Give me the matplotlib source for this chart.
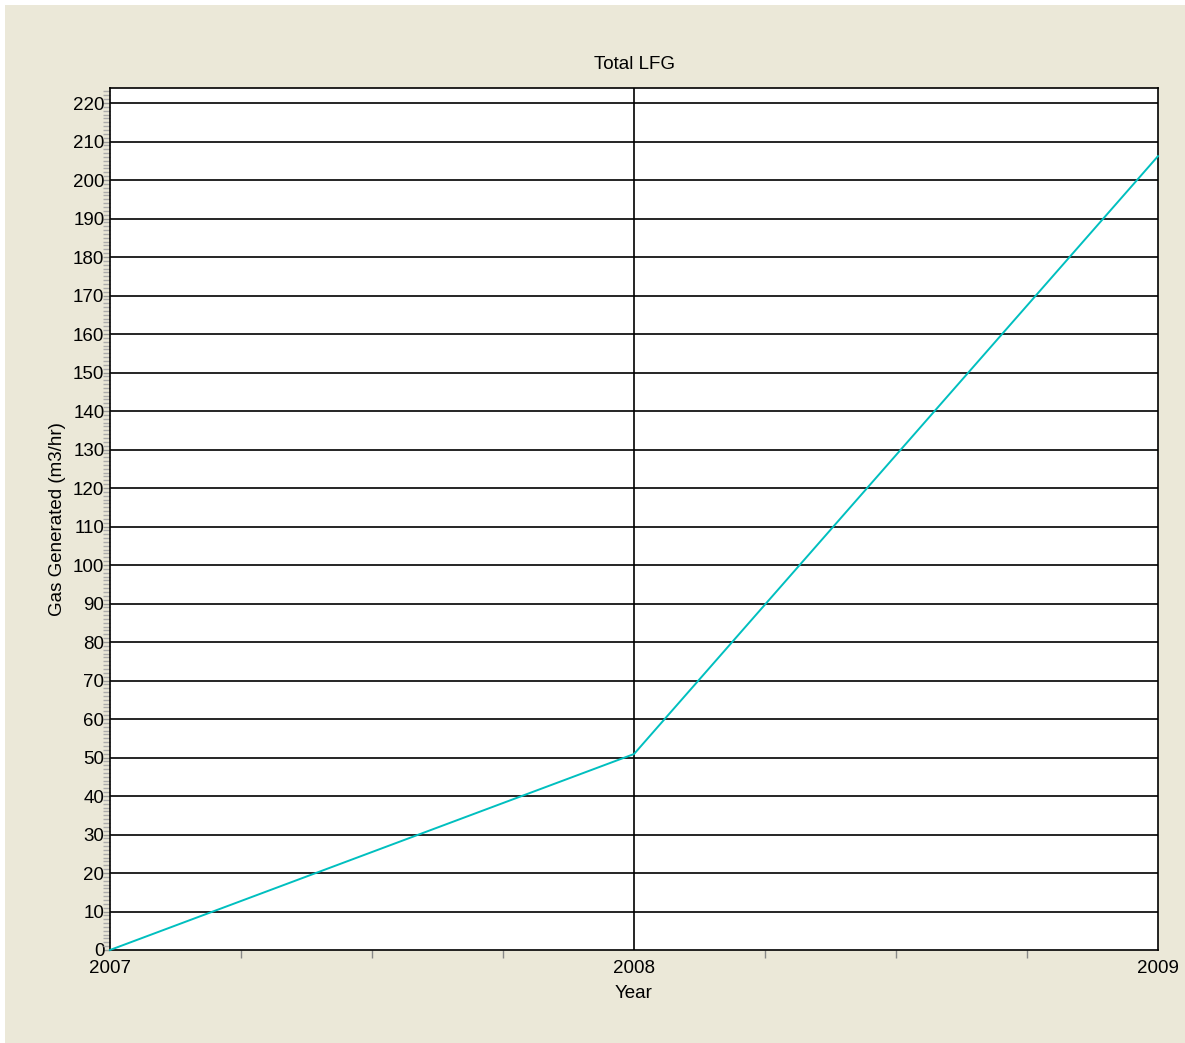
import matplotlib
matplotlib.use("Agg")
import matplotlib.pyplot as plt
from matplotlib.ticker import MultipleLocator, FixedLocator
from matplotlib.patches import Rectangle

years = [2007, 2008, 2009]
gas_generated = [0, 50.9, 206.2]
x_tick_labels = ["2007", "2008", "2009"]

plt.rcParams['font.family'] = ['Liberation Sans', 'DejaVu Sans']

W, H = 1185, 1043
fig = plt.figure(figsize=(W / 100, H / 100), dpi=100)
bg = "#EBE8D8"
fig.patch.set_facecolor(bg)
# white strips at left and top edge
fig.patches.append(Rectangle((0, 0), 5 / W, 1, transform=fig.transFigure, facecolor="white", edgecolor="none", zorder=0))
fig.patches.append(Rectangle((0, 1 - 5 / H), 1, 5 / H, transform=fig.transFigure, facecolor="white", edgecolor="none", zorder=0))

left, right, top, bottom = 110, 1158, 88, 950
ax = fig.add_axes([left / W, 1 - bottom / H, (right - left) / W, (bottom - top) / H])
ax.set_facecolor("white")

ax.set_xlim(2007, 2009)
ax.set_ylim(0, 223.9)

ax.set_yticks(range(0, 221, 10))
ax.yaxis.set_minor_locator(MultipleLocator(1))
ax.set_xticks(years)
ax.set_xticklabels(x_tick_labels)
ax.xaxis.set_minor_locator(FixedLocator([2007.25, 2007.5, 2007.75, 2008.25, 2008.5, 2008.75]))

fs = 13.5
ax.tick_params(axis='y', which='major', length=5, width=1, color="#999999", labelsize=fs, pad=-1, direction='out')
ax.tick_params(axis='y', which='minor', length=5, width=1, color="#AAAAAA", direction='out')
ax.tick_params(axis='x', which='major', length=0, labelsize=fs, pad=7)
ax.tick_params(axis='x', which='minor', length=6, width=1, color="#888888", direction='out')

# grid lines
for v in range(10, 221, 10):
    ax.axhline(v, color="black", lw=1.2, zorder=1)
ax.axvline(2008, color="black", lw=1.2, zorder=1)

ax.plot(years, gas_generated, color="#00BFBF", lw=1.4, zorder=3, clip_on=False)

for s in ax.spines.values():
    s.set_color("black")
    s.set_linewidth(1.2)

ax.set_title("Total LFG", fontsize=fs, pad=14)
ax.set_xlabel("Year", fontsize=fs, labelpad=6)
ax.set_ylabel("Gas Generated (m3/hr)", fontsize=fs, labelpad=5)

fig.savefig("out.png", dpi=100, facecolor=fig.get_facecolor())
